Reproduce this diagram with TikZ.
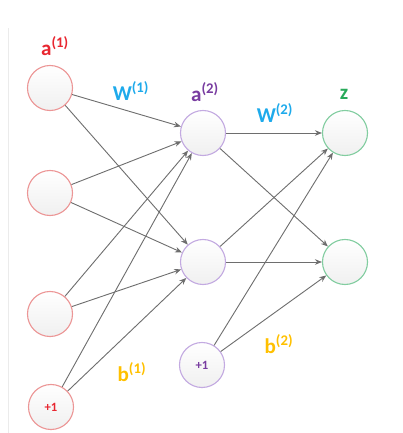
\documentclass[tikz,border=0pt]{standalone}
\usepackage{fontspec}
\setmainfont{Carlito}
\definecolor{nnred}{RGB}{232,38,48}
\definecolor{nnredline}{RGB}{236,150,150}
\definecolor{nnblue}{RGB}{30,170,235}
\definecolor{nnpurple}{RGB}{120,60,160}
\definecolor{nnpurpleline}{RGB}{195,170,225}
\definecolor{nngreen}{RGB}{40,170,90}
\definecolor{nngreenline}{RGB}{130,205,160}
\definecolor{nnyellow}{RGB}{255,192,0}
\definecolor{nnedge}{RGB}{110,110,110}
\usetikzlibrary{arrows.meta}

\begin{document}
\begin{tikzpicture}[x=0.025cm,y=-0.025cm,
  unit/.style={circle,draw,line width=0.8pt,minimum size=1.125cm,inner sep=0pt,
    top color=white,bottom color=black!6,font=\fontsize{9}{10}\selectfont\bfseries},
  lbl/.style={font=\fontsize{15}{16}\selectfont\bfseries,inner sep=0pt},
  wire/.style={nnedge,line width=0.65pt,-{Stealth[length=5pt,width=4pt]}}]
  \useasboundingbox (0,0) rectangle (402,433);
  \draw[black!8,line width=0.5pt] (8,28) -- (8,433);
  % input layer
  \node[unit,draw=nnredline] (x1) at (50,88) {};
  \node[unit,draw=nnredline] (x2) at (50,193) {};
  \node[unit,draw=nnredline] (x3) at (50,314) {};
  \node[unit,draw=nnredline,text=nnred] (b1) at (51,407) {+1};
  % hidden layer
  \node[unit,draw=nnpurpleline] (h1) at (203,133) {};
  \node[unit,draw=nnpurpleline] (h2) at (203,262) {};
  \node[unit,draw=nnpurpleline,text=nnpurple] (b2) at (202,365) {+1};
  % output layer
  \node[unit,draw=nngreenline] (z1) at (345,133) {};
  \node[unit,draw=nngreenline] (z2) at (345,262) {};
  % labels
  \node[lbl,text=nnred] (la1) at (55,46) {a\textsuperscript{(1)}};
  \node[lbl,text=nnblue] (lw1) at (131,91) {W\textsuperscript{(1)}};
  \node[lbl,text=nnpurple] (la2) at (205,92) {a\textsuperscript{(2)}};
  \node[lbl,text=nnblue] (lw2) at (275,113) {W\textsuperscript{(2)}};
  \node[lbl,text=nngreen] (lz) at (344,94) {z};
  \node[lbl,text=nnyellow] (lb1) at (132,372) {b\textsuperscript{(1)}};
  \node[lbl,text=nnyellow] (lb2) at (279,344) {b\textsuperscript{(2)}};
  % weights, layer 1
  \draw[wire] (x1) -- (h1);
  \draw[wire] (x1) -- (h2);
  \draw[wire] (x2) -- (h1);
  \draw[wire] (x2) -- (h2);
  \draw[wire] (x3) -- (h1);
  \draw[wire] (x3) -- (h2);
  \draw[wire] (b1) -- (h1);
  \draw[wire] (b1) -- (h2);
  % weights, layer 2
  \draw[wire] (h1) -- (z1);
  \draw[wire] (h1) -- (z2);
  \draw[wire] (h2) -- (z1);
  \draw[wire] (h2) -- (z2);
  \draw[wire] (b2) -- (z1);
  \draw[wire] (b2) -- (z2);
\end{tikzpicture}
\end{document}
